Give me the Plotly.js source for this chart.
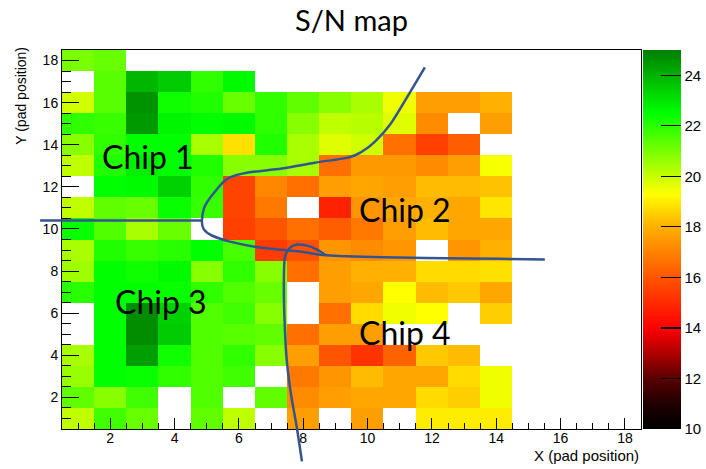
<!DOCTYPE html>
<html>
<head>
<meta charset="utf-8">
<script src="https://cdn.plot.ly/plotly-3.0.1.min.js"></script>
<style>html,body{margin:0;padding:0;background:#fff;}#chart{width:706px;height:469px;}</style>
</head>
<body>
<div id="chart"></div>
<script>
// Pad positions
const xPads = [1,2,3,4,5,6,7,8,9,10,11,12,13,14];
const yPads = [1,2,3,4,5,6,7,8,9,10,11,12,13,14,15,16,17,18];

// S/N values, one row per Y pad (Y = 1 first); null = no entry
const snY01 = [20.1, 21.7, 21.2, null, 21.3, 20.1, null, 17.6, null, 17.6, null, 19.0, 19.0, 19.0];
const snY02 = [21.3, 20.8, 21.7, null, 21.5, null, 21.3, 17.2, 17.6, 17.8, 17.8, 18.7, 18.5, 19.5];
const snY03 = [20.6, 22.5, 22.4, 21.9, 21.5, 21.7, null, 16.8, 17.4, 18.2, 17.8, 17.8, 18.7, 19.5];
const snY04 = [20.4, 22.5, 24.4, 22.3, 21.5, 21.9, 20.8, 17.6, 16.0, 15.2, 16.3, 18.4, 18.2, null];
const snY05 = [null, 22.5, 24.7, 23.5, 21.5, 21.4, 21.3, 16.6, 17.6, 17.6, null, null, null, null];
const snY06 = [null, 22.5, 24.7, 23.4, 21.5, 21.7, 20.8, null, 16.6, 18.7, 19.5, 19.3, null, 18.5];
const snY07 = [22.0, 22.5, 22.5, 22.4, 21.9, 21.5, 21.2, null, 17.6, 17.8, 19.3, 18.2, 18.4, 17.8];
const snY08 = [20.5, 22.5, 22.3, 22.6, 20.8, 21.9, 20.8, 16.6, 17.6, 18.0, 18.0, 18.7, 18.7, 18.8];
const snY09 = [20.4, 22.1, 21.8, 22.0, 22.5, 21.6, 15.4, 15.9, 17.4, 17.2, 17.4, null, 17.4, 18.0];
const snY10 = [22.4, 21.5, 20.4, 21.2, null, 15.5, 16.0, 16.6, 16.2, 16.8, 17.6, 18.2, 17.8, 17.8];
const snY11 = [20.1, 21.3, 21.2, 22.4, 21.8, 15.6, 16.8, null, 14.8, 17.4, 17.8, 18.0, 17.8, 18.9];
const snY12 = [null, 22.5, 22.6, 23.4, 21.9, 15.6, 17.1, 16.6, 17.6, 17.8, 17.6, 18.2, 18.2, 18.3];
const snY13 = [20.1, 22.1, 22.8, 22.5, 22.1, 20.8, 20.8, 20.4, 16.6, 17.5, 17.5, 17.2, 17.6, 19.4];
const snY14 = [20.8, 21.9, 22.5, 22.5, 20.4, 18.8, 22.1, 20.4, 19.7, 19.9, 16.6, 15.5, 16.2, null];
const snY15 = [21.9, 21.8, 24.5, 22.7, 22.5, 22.6, 21.9, 20.8, 20.1, 20.2, 19.7, 17.2, null, 17.6];
const snY16 = [19.9, 21.4, 24.6, 22.3, 22.1, 21.2, 21.9, 21.3, 20.8, 20.4, 19.5, 17.6, 17.6, 18.0];
const snY17 = [null, 21.4, 23.9, 23.5, 21.9, 22.6, null, null, null, null, null, null, null, null];
const snY18 = [21.0, 21.2, null, null, null, null, null, null, null, null, null, null, null, null];

const axisTicks = [2,4,6,8,10,12,14,16,18];
const zTicks = [10,12,14,16,18,20,22,24];

// Chip labels (text annotations, in pad units)
const chipNames = ['Chip 1','Chip 2','Chip 3','Chip 4'];
const chipX = [1.68, 9.67, 2.09, 9.67];
const chipY = [13.44, 10.92, 6.55, 5.08];

// Hand-drawn boundary curves (in pad units)
const curveUpperX = [11.78,11.22,10.70,10.23,9.83,9.39,8.36,7.34,6.28,5.66,5.26,4.95,4.85,4.91,5.16,5.72,6.65,7.90,8.83,11.01,13.18,15.51];
const curveUpperY = [17.67,16.24,14.96,14.15,13.68,13.39,13.15,12.87,12.68,12.40,11.78,11.11,10.40,9.98,9.69,9.40,9.12,8.93,8.74,8.64,8.60,8.55];
const lineLeftX = [-0.18, 4.85];
const lineLeftY = [10.40, 10.40];
const curveLowerX = [7.96,7.80,7.62,7.49,7.43,7.40,7.40,7.43,7.56,7.80,8.12,8.43,8.71];
const curveLowerY = [-1.04,0.57,2.14,3.71,5.22,6.65,7.84,8.64,9.07,9.26,9.21,9.02,8.74];

const xRange = [0.5, 18.5];
const yRange = [0.5, 18.5];

const zRows = [snY01,snY02,snY03,snY04,snY05,snY06,snY07,snY08,snY09,snY10,snY11,snY12,snY13,snY14,snY15,snY16,snY17,snY18];

function toPaper(xs, ys){
  return xs.map((x,i)=>[(x-xRange[0])/(xRange[1]-xRange[0]), (ys[i]-yRange[0])/(yRange[1]-yRange[0])]);
}
function smoothPath(pts){
  let d = 'M' + pts[0][0].toFixed(5) + ',' + pts[0][1].toFixed(5);
  for(let i=0;i<pts.length-1;i++){
    const p0 = pts[i-1]||pts[i], p1 = pts[i], p2 = pts[i+1], p3 = pts[i+2]||p2;
    const c1 = [p1[0]+(p2[0]-p0[0])/6, p1[1]+(p2[1]-p0[1])/6];
    const c2 = [p2[0]-(p3[0]-p1[0])/6, p2[1]-(p3[1]-p1[1])/6];
    d += ' C'+c1[0].toFixed(5)+','+c1[1].toFixed(5)+' '+c2[0].toFixed(5)+','+c2[1].toFixed(5)+' '+p2[0].toFixed(5)+','+p2[1].toFixed(5);
  }
  return d;
}
const curveLine = {color:'#34548f', width:2.5};
const shapes = [
  {type:'path', xref:'paper', yref:'paper', path: smoothPath(toPaper(curveUpperX, curveUpperY)), line: curveLine},
  {type:'path', xref:'paper', yref:'paper', path: smoothPath(toPaper(lineLeftX, lineLeftY)), line: curveLine},
  {type:'path', xref:'paper', yref:'paper', path: smoothPath(toPaper(curveLowerX, curveLowerY)), line: curveLine}
];

const colorscale = [
  [0, '#000000'],
  [0.0667, '#200000'],
  [0.1333, '#5a0000'],
  [0.2, '#b00000'],
  [0.2667, '#ff0000'],
  [0.4, '#ff5500'],
  [0.5333, '#ffb000'],
  [0.62, '#ffff00'],
  [0.8333, '#00ff00'],
  [1.0, '#007f00']
];

const baseFont = 'Liberation Sans, Arial, sans-serif';

const trace = {
  type:'heatmap',
  x: xPads, y: yPads, z: zRows,
  zmin: 10, zmax: 25,
  colorscale: colorscale,
  hoverongaps:false,
  colorbar: {
    thickness: 38, thicknessmode:'pixels',
    len: 1, lenmode:'fraction',
    x: 1.004, xanchor:'left', xpad:0,
    y: 0.5, yanchor:'middle', ypad:0,
    outlinewidth: 0,
    tickmode:'array', tickvals: zTicks, ticktext: zTicks.map(String),
    ticks:'inside', ticklen: 20, tickwidth: 1.2, tickcolor:'#000',
    tickfont: {family: baseFont, size: 15, color:'#000'}
  }
};

const annotations = chipNames.map((t,i)=>({
  text: t, x: chipX[i], y: chipY[i], xref:'x', yref:'y',
  xanchor:'left', yanchor:'middle', showarrow:false,
  font: {family:'Lato, Noto Sans, sans-serif', size: 32, color:'#000'}
}));
annotations.push({
  text:'Y (pad position)', xref:'paper', yref:'paper', x: -0.07, y: 1.015,
  xanchor:'center', yanchor:'top', textangle:-90, showarrow:false,
  font:{family: baseFont, size: 14, color:'#000'}
});
annotations.push({
  text:'X (pad position)', xref:'paper', yref:'paper', x: 1.0, y: -0.043,
  xanchor:'right', yanchor:'top', showarrow:false,
  font:{family: baseFont, size: 15, color:'#000'}
});

const axisCommon = {
  showline:true, mirror:true, linecolor:'#000', linewidth:1,
  showgrid:false, zeroline:false,
  ticks:'inside', tickcolor:'#000', tickwidth:1,
  tickmode:'array', tickvals: axisTicks,
  tickfont:{family: baseFont, size: 14, color:'#000'},
};

const layout = {
  width:706, height:469,
  margin:{l:62, r:65, t:50, b:40, pad:0, autoexpand:false},
  paper_bgcolor:'#fff', plot_bgcolor:'#fff',
  title:{text:'S/N map', x:0.5, xanchor:'center', xref:'paper', y:0.955, yanchor:'middle',
         font:{family:'Lato, Noto Sans, sans-serif', size:29, color:'#000'}},
  xaxis: Object.assign({}, axisCommon, {range: xRange, ticklen: 11, ticklabelstandoff: -4,
     minor:{ticks:'inside', ticklen:6, dtick:0.5, tick0:0, tickcolor:'#000', showgrid:false}}),
  yaxis: Object.assign({}, axisCommon, {range: yRange, ticklen: 17,
     minor:{ticks:'inside', ticklen:9, dtick:0.5, tick0:0, tickcolor:'#000', showgrid:false}}),
  shapes: shapes,
  annotations: annotations,
  showlegend:false
};

Plotly.newPlot('chart', [trace], layout, {staticPlot:true, displayModeBar:false});
</script>
</body>
</html>
